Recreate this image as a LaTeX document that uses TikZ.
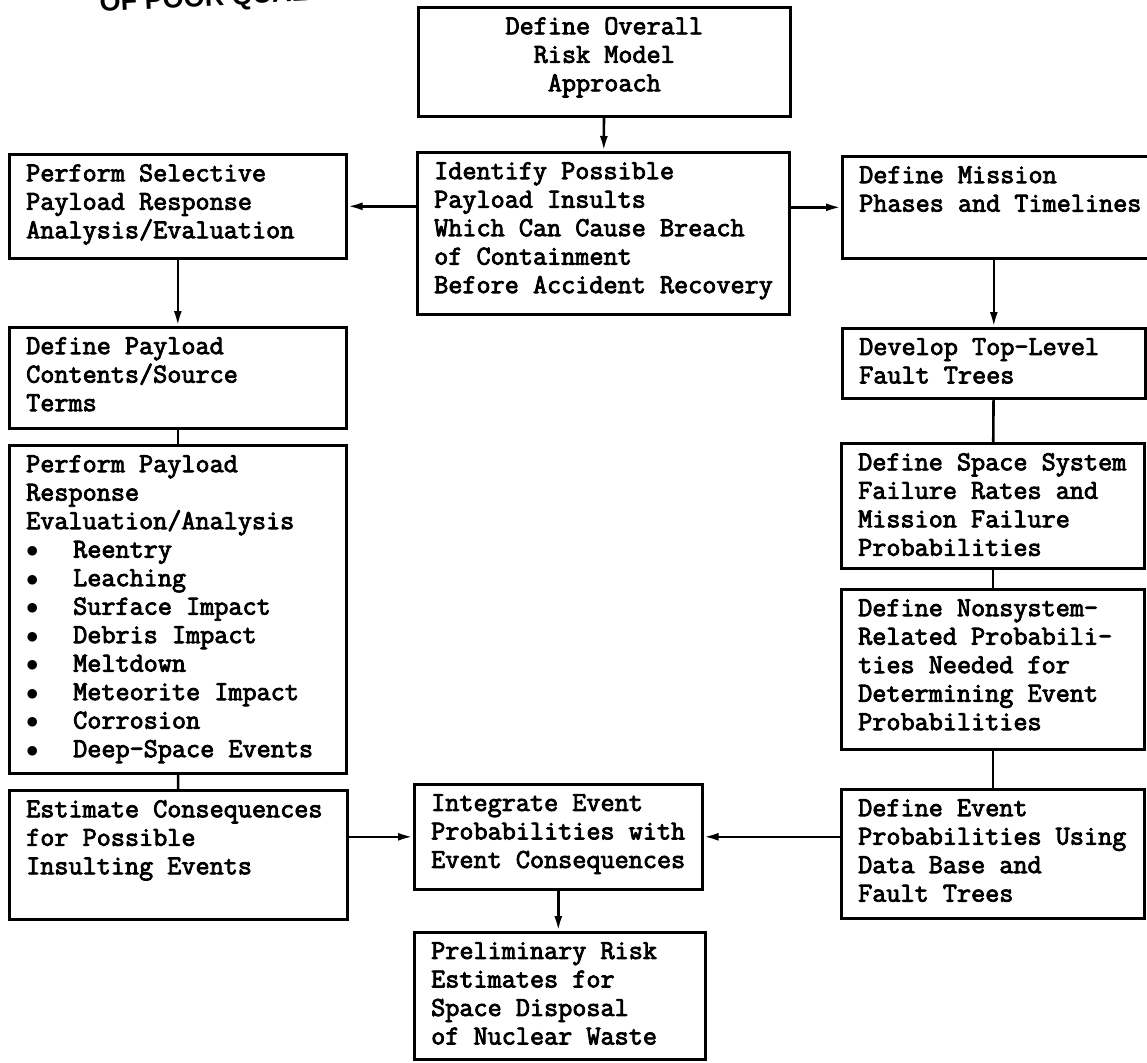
\documentclass[tikz,border=0pt]{standalone}
\usepackage{fontspec}
\newfontfamily\typer{Latin Modern Mono}[FakeBold=3]
\newfontfamily\stampfont{Liberation Sans}
\usetikzlibrary{arrows.meta}
\newcommand{\dotitem}{\makebox[47pt][l]{$\bullet$}}

\begin{document}
\begin{tikzpicture}[x=1pt,y=-1pt,>={Latex[length=15pt,width=8pt]},
  box/.style={draw, line width=2.6pt, anchor=north west, inner sep=0pt},
  txt/.style={anchor=north west, align=left, inner xsep=18pt, inner ysep=11pt, font=\typer\fontsize{27.4}{28.5}\selectfont},
  link/.style={line width=2.6pt}]
\useasboundingbox (0,0) rectangle (1147,1062);
\node[anchor=base west, rotate=3, inner sep=0pt, font=\stampfont\bfseries\fontsize{27}{30}\selectfont] (stamp) at (100,12) {OF POOR QUAL};

\node[box, minimum width=372pt, minimum height=109pt, label={[txt, anchor=north, align=center]north:{Define Overall\\Risk Model\\Approach}}] (over) at (417,6) {};
\node[box, minimum width=372pt, minimum height=162pt, label={[txt]north west:{Identify Possible\\Payload Insults\\Which Can Cause Breach\\of Containment\\Before Accident Recovery}}] (ident) at (416,151) {};
\node[box, minimum width=337pt, minimum height=104pt, label={[txt]north west:{Perform Selective\\Payload Response\\Analysis/Evaluation}}] (sel) at (8,153) {};
\node[box, minimum width=310pt, minimum height=102pt, label={[txt]north west:{Define Mission\\Phases and Timelines}}] (mis) at (841,155) {};

\node[box, minimum width=337pt, minimum height=101pt, label={[txt]north west:{Define Payload\\Contents/Source\\Terms}}] (cont) at (8,326) {};
\node[box, minimum width=337pt, minimum height=328pt, label={[txt]north west:{Perform Payload\\Response\\Evaluation/Analysis\\\dotitem Reentry\\\dotitem Leaching\\\dotitem Surface Impact\\\dotitem Debris Impact\\\dotitem Meltdown\\\dotitem Meteorite Impact\\\dotitem Corrosion\\\dotitem Deep-Space Events}}] (resp) at (8,444) {};
\node[box, minimum width=338pt, minimum height=129pt, label={[txt]north west:{Estimate Consequences\\for Possible\\Insulting Events}}] (cons) at (8,789) {};

\node[box, minimum width=303pt, minimum height=70pt, label={[txt]north west:{Develop Top-Level\\Fault Trees}}] (dev) at (841,327) {};
\node[box, minimum width=303pt, minimum height=125pt, label={[txt]north west:{Define Space System\\Failure Rates and\\Mission Failure\\Probabilities}}] (rate) at (840,442) {};
\node[box, minimum width=303pt, minimum height=160pt, label={[txt]north west:{Define Nonsystem-\\Related Probabili-\\ties Needed for\\Determining Event\\Probabilities}}] (nons) at (840,588) {};
\node[box, minimum width=303pt, minimum height=129pt, label={[txt]north west:{Define Event\\Probabilities Using\\Data Base and\\Fault Trees}}] (evp) at (840,788) {};

\node[box, minimum width=288pt, minimum height=105pt, label={[txt]north west:{Integrate Event\\Probabilities with\\Event Consequences}}] (integ) at (413,783) {};
\node[box, minimum width=291pt, minimum height=127pt, label={[txt]north west:{Preliminary Risk\\Estimates for\\Space Disposal\\of Nuclear Waste}}] (prelim) at (413,931) {};

\draw[link,->] (over) -- (ident);
\draw[link,->] (ident.west |- sel.east) -- (sel.east);
\draw[link,->] (ident.east |- mis.west) -- (mis.west);
\draw[link,->] (sel) -- (cont);
\draw[link] (cont) -- (resp);
\draw[link] (resp) -- (cons);
\draw[link,->] (mis.south -| dev.north) -- (dev.north);
\draw[link] (dev) -- (rate);
\draw[link] (rate) -- (nons);
\draw[link] (nons) -- (evp);
\draw[link,->] (cons.east |- integ.west) -- (integ.west);
\draw[link,->] (evp.west |- integ.east) -- (integ.east);
\draw[link,->] (integ) -- (integ |- prelim.north);
\end{tikzpicture}
\end{document}
